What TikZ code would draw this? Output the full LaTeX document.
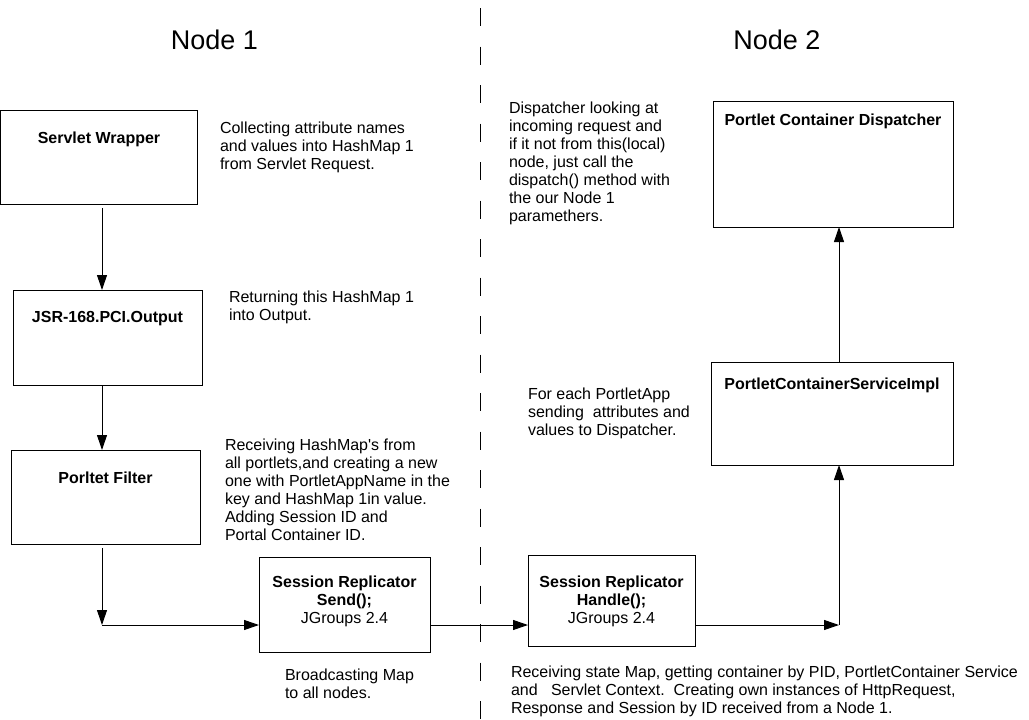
\documentclass[tikz,border=0pt]{standalone}
\usepackage{fontspec}
\setmainfont{Liberation Sans}
\usetikzlibrary{arrows.meta,positioning}

\begin{document}
\begin{tikzpicture}[x=1pt,y=-1pt,inner sep=0pt,outer sep=0pt,line width=1pt,
font=\fontsize{16}{18}\selectfont,
block/.style={draw,rectangle,anchor=north west},
title/.style={font=\fontsize{16}{18}\selectfont\bfseries,align=center,anchor=base},
note/.style={align=left,anchor=base west},
flow/.style={-{Triangle[length=15pt,width=10pt]}}]

\useasboundingbox (0,0) rectangle (1029,720);

% the two sides
\node[font=\fontsize{27}{30}\selectfont,anchor=base] (node1) at (214.5,49) {Node 1};
\node[font=\fontsize{27}{30}\selectfont,anchor=base] (node2) at (777,49) {Node 2};
\coordinate (splittop) at (480,8);
\coordinate (splitbot) at (480,720);
\draw[dash pattern=on 18pt off 20.5pt] (splittop) -- (splitbot);

% Node 1 blocks
\node[block,minimum width=197pt,minimum height=94pt] (wrapper) at (0.5,110) {};
\node[title] (wrappertxt) at ([yshift=-33pt]wrapper.north) {Servlet Wrapper};
\node[block,minimum width=189pt,minimum height=95pt] (output) at (13,290) {};
\node[title] (outputtxt) at ([yshift=-32pt]output.north) {JSR-168.PCI.Output};
\node[block,minimum width=189pt,minimum height=94pt] (filter) at (11,450) {};
\node[title] (filtertxt) at ([yshift=-33pt]filter.north) {Porltet Filter};
\node[block,minimum width=171pt,minimum height=95pt] (send) at (259,557) {};
\node[title] (sendtxt) at ([yshift=-66pt]send.north) {Session Replicator\\Send();\\{\mdseries JGroups 2.4}};

% Node 2 blocks
\node[block,minimum width=167pt,minimum height=91pt] (handle) at (528,555) {};
\node[title] (handletxt) at ([yshift=-68pt]handle.north) {Session Replicator\\Handle();\\{\mdseries JGroups 2.4}};
\node[block,minimum width=242pt,minimum height=103pt] (service) at (711,362) {};
\node[title] (servicetxt) at ([yshift=-27pt]service.north) {PortletContainerServiceImpl};
\node[block,minimum width=240pt,minimum height=126pt] (dispatcher) at (713,101) {};
\node[title] (dispatchertxt) at ([yshift=-24pt]dispatcher.north) {Portlet Container Dispatcher};

% notes (base = last line)
\node[note] (wrappernote) at (220,169) {Collecting attribute names\\and values into HashMap 1\\from Servlet Request.};
\node[note] (outputnote) at (229,320) {Returning this HashMap 1\\into Output.};
\node[note] (filternote) at (225,540) {Receiving HashMap\textquotesingle s from\\all portlets,and creating a new\\one with PortletAppName in the\\key and HashMap 1in value.\\Adding Session ID and\\Portal Container ID.};
\node[note] (sendnote) at (285,698) {Broadcasting Map\\to all nodes.};
\node[note] (dispatchernote) at (509,221) {Dispatcher looking at\\incoming request and\\if it not from this(local)\\node, just call the\\dispatch() method with\\the our Node 1\\paramethers.};
\node[note] (servicenote) at (528,435) {For each PortletApp\\sending\ \ attributes and\\values to Dispatcher.};
\node[note] (handlenote) at (511,713) {Receiving state Map, getting container by PID, PortletContainer Service\\and\ \ \ Servlet Context.\ \ Creating own instances of HttpRequest,\\Response and Session by ID received from a Node 1.};

% connectors
\coordinate (filterturn) at (102,625);
\coordinate (handleturn) at (839,625);
\draw[flow] ([yshift=-4pt]wrapper.south -| 102,0) -- (output.north -| 102,0);
\draw[flow] (output.south -| 102,0) -- (filter.north -| 102,0);
\draw[flow] ([yshift=-4pt]filter.south -| 102,0) -- (filterturn);
\draw[flow] (filterturn) -- (send.west |- filterturn);
\draw[flow] (send.east |- filterturn) -- (handle.west |- filterturn);
\draw[flow] (handle.east |- handleturn) -- (handleturn);
\draw[flow] (handleturn) -- (service.south -| handleturn);
\draw[flow] (service.north -| handleturn) -- (dispatcher.south -| handleturn);
\end{tikzpicture}
\end{document}
